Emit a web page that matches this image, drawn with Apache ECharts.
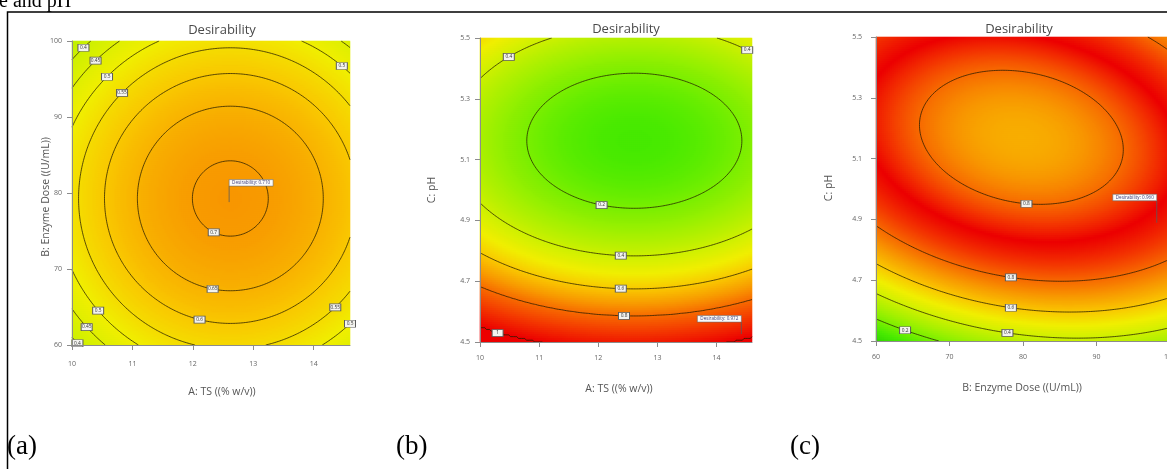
<!DOCTYPE html>
<html>
<head>
<meta charset="utf-8">
<script src="https://cdn.jsdelivr.net/npm/echarts@6/dist/echarts.min.js"></script>
<style>
  html, body { margin: 0; padding: 0; background: #fff; }
  #chart { width: 1167px; height: 469px; }
</style>
</head>
<body>
<div id="chart"></div>
<script>
// ---- factor axes -------------------------------------------------------
const tsTicks = [10, 11, 12, 13, 14];
const doseTicks = [60, 70, 80, 90, 100];
const phTicks = [4.5, 4.7, 4.9, 5.1, 5.3, 5.5];
const tsRange = [10, 14.6];
const doseRange = [60, 100];
const phRange = [4.5, 5.5];

// ---- fitted desirability surfaces ---------------------------------------
// stationary point of each second-order model
const centerA = [12.62, 79.28];   // TS, enzyme dose
const centerB = [12.61, 5.162];   // TS, pH
const centerC = [79.78, 5.17];    // enzyme dose, pH
// quadratic form around the stationary point: [xx, yy, xy]
const formA = [0.02537, 0.000407, 0];
const formB = [0.03152, 2.1117, 0];
const formC = [0.005694, 22.516, 0.13077];
// desirability as a piecewise-linear function of the quadratic form
const profileA = [[0, 0.710], [0.710, 0]];
const profileB = [[0, 0.095], [0.70, 0.80], [1.0, 1.0]];
const profileC = [[0, 0.66], [2.57, 1.0], [14.12, 0.0]];

// ---- contour levels and their label anchors [x, y, level] ---------------
const levelsA = [0.40, 0.45, 0.50, 0.55, 0.60, 0.65, 0.70];
const levelsB = [0.2, 0.4, 0.6, 0.8, 1.0];
const levelsC = [0.2, 0.4, 0.6, 0.8];
const labelsA = [
  [12.35, 74.95, 0.70], [12.34, 67.5, 0.65], [12.12, 63.5, 0.60],
  [10.83, 93.2, 0.55], [14.31, 65.5, 0.55],
  [10.58, 95.3, 0.50], [14.48, 96.9, 0.50], [10.44, 64.6, 0.50], [14.56, 63.7, 0.50],
  [10.41, 97.2, 0.45], [10.24, 62.4, 0.45],
  [10.18, 99.2, 0.40], [10.11, 60.3, 0.40]
];
const labelsB = [
  [10.44, 5.457, 0.4], [14.52, 5.467, 0.4], [12.06, 4.962, 0.2],
  [12.38, 4.789, 0.4], [12.38, 4.677, 0.6], [12.43, 4.585, 0.8], [10.25, 4.523, 1.0]
];
const labelsC = [
  [80.46, 4.972, 0.8], [78.4, 4.724, 0.8], [78.4, 4.622, 0.6],
  [78.0, 4.543, 0.4], [64.1, 4.546, 0.2]
];
// optimum flags
const flagA = [12.60, 78.8];
const flagB = [14.42, 4.526];
const flagC = [98.2, 4.889];

// colour ramp for desirability 0 ... 1
const desirabilityColors = ['#2fd500', '#48ea00', '#7aef00', '#a6f000', '#cdf000',
  '#f0ef00', '#f9c800', '#f89c00', '#f76a00', '#f33300', '#ec0000'];

// ---- panel set-up ----------------------------------------------------------
const panels = [
  { x: tsRange, y: doseRange, xTicks: tsTicks, yTicks: doseTicks, yFmt: v => String(v),
    center: centerA, form: formA, profile: profileA, levels: levelsA, labels: labelsA, flag: flagA,
    grid: { left: 72, top: 41, width: 278, height: 304 }, nx: 139, ny: 152,
    xMargin: 15, yMargin: 10, flagSide: 'right', stem: 16 },
  { x: tsRange, y: phRange, xTicks: tsTicks, yTicks: phTicks, yFmt: v => v.toFixed(1),
    center: centerB, form: formB, profile: profileB, levels: levelsB, labels: labelsB, flag: flagB,
    grid: { left: 480, top: 38, width: 272, height: 304 }, nx: 136, ny: 152,
    xMargin: 12, yMargin: 10, flagSide: 'left', stem: 12 },
  { x: doseRange, y: phRange, xTicks: doseTicks, yTicks: phTicks, yFmt: v => v.toFixed(1),
    center: centerC, form: formC, profile: profileC, levels: levelsC, labels: labelsC, flag: flagC,
    grid: { left: 876, top: 37, width: 294, height: 304 }, nx: 147, ny: 152,
    xMargin: 12, yMargin: 14, flagSide: 'left', stem: 22 }
];

function profileAt(profile, q) {
  if (q <= profile[0][0]) return profile[0][1];
  for (let k = 1; k < profile.length; k++) {
    const [q0, d0] = profile[k - 1], [q1, d1] = profile[k];
    if (q <= q1) return d0 + (d1 - d0) * (q - q0) / (q1 - q0);
  }
  return profile[profile.length - 1][1];
}
function desirability(p, x, y) {
  const dx = x - p.center[0], dy = y - p.center[1];
  const q = p.form[0] * dx * dx + p.form[1] * dy * dy + p.form[2] * dx * dy;
  return Math.min(1, Math.max(0, profileAt(p.profile, q)));
}

// surface sampled on cell centres for the colour map
function heatCells(p) {
  const out = [];
  const hx = (p.x[1] - p.x[0]) / p.nx, hy = (p.y[1] - p.y[0]) / p.ny;
  for (let j = 0; j < p.ny; j++) {
    const y = p.y[0] + (j + 0.5) * hy;
    for (let i = 0; i < p.nx; i++) {
      out.push([i, j, desirability(p, p.x[0] + (i + 0.5) * hx, y)]);
    }
  }
  return out;
}

// marching squares, chained into polylines
function nodeValues(p, n) {
  const vals = [];
  for (let j = 0; j <= n; j++) {
    const y = p.y[0] + (p.y[1] - p.y[0]) * j / n, row = [];
    for (let i = 0; i <= n; i++) row.push(desirability(p, p.x[0] + (p.x[1] - p.x[0]) * i / n, y));
    vals.push(row);
  }
  return vals;
}
function tracePolylines(p, vals, n, level) {
  const x0 = p.x[0], y0 = p.y[0];
  const hx = (p.x[1] - p.x[0]) / n, hy = (p.y[1] - p.y[0]) / n;
  const pts = {}, adj = {};
  const cross = (a, b) => (a < level) !== (b < level);
  const hEdge = (i, j) => {
    const k = 'h' + i + '_' + j;
    if (!pts[k]) { const a = vals[j][i], b = vals[j][i + 1]; pts[k] = [x0 + (i + (level - a) / (b - a)) * hx, y0 + j * hy]; }
    return k;
  };
  const vEdge = (i, j) => {
    const k = 'v' + i + '_' + j;
    if (!pts[k]) { const a = vals[j][i], b = vals[j + 1][i]; pts[k] = [x0 + i * hx, y0 + (j + (level - a) / (b - a)) * hy]; }
    return k;
  };
  const link = (a, b) => { (adj[a] = adj[a] || []).push(b); (adj[b] = adj[b] || []).push(a); };
  for (let j = 0; j < n; j++) {
    for (let i = 0; i < n; i++) {
      const v00 = vals[j][i], v10 = vals[j][i + 1], v01 = vals[j + 1][i], v11 = vals[j + 1][i + 1];
      const ks = [];
      if (cross(v00, v10)) ks.push(hEdge(i, j));
      if (cross(v10, v11)) ks.push(vEdge(i + 1, j));
      if (cross(v01, v11)) ks.push(hEdge(i, j + 1));
      if (cross(v00, v01)) ks.push(vEdge(i, j));
      if (ks.length === 2) link(ks[0], ks[1]);
      else if (ks.length === 4) { link(ks[0], ks[1]); link(ks[2], ks[3]); }
    }
  }
  const used = new Set(), lines = [];
  const walk = start => {
    const line = [pts[start]];
    used.add(start);
    let cur = start;
    for (;;) {
      const next = (adj[cur] || []).find(k => !used.has(k));
      if (!next) break;
      used.add(next); line.push(pts[next]); cur = next;
    }
    return line;
  };
  Object.keys(adj).forEach(k => { if (adj[k].length === 1 && !used.has(k)) lines.push(walk(k)); });
  Object.keys(adj).forEach(k => { if (!used.has(k)) { const l = walk(k); l.push(l[0]); lines.push(l); } });
  return lines;
}
function snapToContour(p, lines, x, y) {
  const sx = 1 / (p.x[1] - p.x[0]), sy = 1 / (p.y[1] - p.y[0]);
  let best = [x, y], bd = Infinity;
  lines.forEach(l => l.forEach(pt => {
    const d = ((pt[0] - x) * sx) ** 2 + ((pt[1] - y) * sy) ** 2;
    if (d < bd) { bd = d; best = pt; }
  }));
  return best;
}

const N = 170;
const FONT = '"Open Sans", "Noto Sans", sans-serif';
const grids = [], xAxes = [], yAxes = [], heatSeries = [], overlaySeries = [];

panels.forEach((p, k) => {
  // visible value grid (ticks, contours, labels) and hidden category grid (colour cells)
  grids[k] = Object.assign({ containLabel: false, outerBoundsMode: 'none' }, p.grid);
  grids[k + 3] = Object.assign({ containLabel: false, outerBoundsMode: 'none' }, p.grid);

  xAxes[k] = {
    type: 'value', gridIndex: k, min: p.x[0], max: p.x[1], z: 10,
    axisLine: { show: true, onZero: false, lineStyle: { color: '#8c8c8c', width: 1 } },
    axisTick: { show: true, length: 5, customValues: p.xTicks, lineStyle: { color: '#8c8c8c' } },
    axisLabel: { customValues: p.xTicks, fontSize: 7, color: '#666', margin: p.xMargin, fontFamily: FONT },
    splitLine: { show: false }
  };
  yAxes[k] = {
    type: 'value', gridIndex: k, min: p.y[0], max: p.y[1], z: 10,
    axisLine: { show: true, onZero: false, lineStyle: { color: '#8c8c8c', width: 1 } },
    axisTick: { show: true, length: 5, customValues: p.yTicks, lineStyle: { color: '#8c8c8c' } },
    axisLabel: { customValues: p.yTicks, fontSize: 7, color: '#666', margin: p.yMargin, fontFamily: FONT,
      formatter: p.yFmt },
    splitLine: { show: false }
  };
  xAxes[k + 3] = { type: 'category', gridIndex: k + 3, show: false,
    data: Array.from({ length: p.nx }, (_, i) => i) };
  yAxes[k + 3] = { type: 'category', gridIndex: k + 3, show: false,
    data: Array.from({ length: p.ny }, (_, i) => i) };

  heatSeries.push({
    type: 'heatmap', xAxisIndex: k + 3, yAxisIndex: k + 3, data: heatCells(p),
    progressive: 0, silent: true, emphasis: { disabled: true }, itemStyle: { borderWidth: 0 }, z: 1
  });

  const vals = nodeValues(p, N);
  const byLevel = {};
  const polylines = [];
  p.levels.forEach(lv => {
    byLevel[lv] = tracePolylines(p, vals, N, lv);
    byLevel[lv].forEach(c => { if (c.length > 1) polylines.push({ coords: c }); });
  });
  overlaySeries.push({
    type: 'lines', coordinateSystem: 'cartesian2d', xAxisIndex: k, yAxisIndex: k,
    polyline: true, data: polylines, silent: true, z: 3,
    lineStyle: { color: '#231b00', width: 1, opacity: 0.75 }
  });

  overlaySeries.push({
    type: 'scatter', xAxisIndex: k, yAxisIndex: k, silent: true, z: 4,
    symbol: 'rect', symbolSize: [11, 7],
    itemStyle: { color: '#f3f3ef', borderColor: '#5a5a5a', borderWidth: 0.8, opacity: 1 },
    label: { show: true, position: 'inside', fontSize: 4.8, color: '#333', fontFamily: FONT,
      formatter: d => String(d.value[2]) },
    data: p.labels.map(([x, y, lv]) => {
      const s = snapToContour(p, byLevel[lv] || [], x, y);
      return [s[0], s[1], lv];
    })
  });

  const side = p.flagSide, stem = p.stem;
  overlaySeries.push({
    type: 'custom', xAxisIndex: k, yAxisIndex: k, silent: true, z: 5,
    data: [[p.flag[0], p.flag[1], desirability(p, p.flag[0], p.flag[1])]],
    renderItem: (params, api) => {
      const pt = api.coord([api.value(0), api.value(1)]);
      const w = 44, h = 6.5;
      const bx = side === 'right' ? pt[0] : pt[0] - w;
      const by = pt[1] - stem - h;
      return {
        type: 'group',
        children: [
          { type: 'line', shape: { x1: pt[0], y1: pt[1], x2: pt[0], y2: pt[1] - stem },
            style: { stroke: '#5a5a5a', lineWidth: 0.8 } },
          { type: 'rect', shape: { x: bx, y: by, width: w, height: h },
            style: { fill: '#fbfbfb', stroke: '#6a6a6a', lineWidth: 0.6 } },
          { type: 'text', style: { x: bx + w / 2, y: by + h / 2, align: 'center', verticalAlign: 'middle',
              text: 'Desirability: ' + api.value(2).toFixed(3), fontSize: 4.6, fontFamily: FONT, fill: '#3c3c78' } }
        ]
      };
    }
  });
});

const textStyle = (extra) => Object.assign({ fontFamily: FONT, fill: '#4a4a4a' }, extra);
const SERIF = '"Liberation Serif", "DejaVu Serif", serif';
const nameStyle = (text) => textStyle({ text: text, fontSize: 10.5, align: 'center', verticalAlign: 'middle', fill: '#555' });
const graphic = [
  { type: 'rect', shape: { x: 7.5, y: 12, width: 1200, height: 500 },
    style: { fill: 'none', stroke: '#000', lineWidth: 1.5 }, z: 100 },
  { type: 'text', x: -1, y: 12, style: { text: 'e and pH', font: '20px ' + SERIF, fill: '#000', verticalAlign: 'bottom' } },
  { type: 'text', x: 7, y: 447, style: { text: '(a)', font: '27px ' + SERIF, fill: '#000', verticalAlign: 'middle' } },
  { type: 'text', x: 396, y: 447, style: { text: '(b)', font: '27px ' + SERIF, fill: '#000', verticalAlign: 'middle' } },
  { type: 'text', x: 790, y: 447, style: { text: '(c)', font: '27px ' + SERIF, fill: '#000', verticalAlign: 'middle' } },
  // panel titles
  { type: 'text', x: 222, y: 30, style: textStyle({ text: 'Desirability', fontSize: 13, align: 'center', verticalAlign: 'middle' }) },
  { type: 'text', x: 626, y: 29, style: textStyle({ text: 'Desirability', fontSize: 13, align: 'center', verticalAlign: 'middle' }) },
  { type: 'text', x: 1019, y: 29, style: textStyle({ text: 'Desirability', fontSize: 13, align: 'center', verticalAlign: 'middle' }) },
  // axis names
  { type: 'text', x: 222, y: 392, style: nameStyle('A: TS ((% w/v))') },
  { type: 'text', x: 619, y: 389, style: nameStyle('A: TS ((% w/v))') },
  { type: 'text', x: 1022, y: 388, style: nameStyle('B: Enzyme Dose ((U/mL))') },
  { type: 'text', x: 46, y: 197, rotation: Math.PI / 2, style: nameStyle('B: Enzyme Dose ((U/mL))') },
  { type: 'text', x: 432, y: 190, rotation: Math.PI / 2, style: nameStyle('C: pH') },
  { type: 'text', x: 829, y: 188, rotation: Math.PI / 2, style: nameStyle('C: pH') }
];

const chart = echarts.init(document.getElementById('chart'), null, { renderer: 'canvas' });
chart.setOption({
  animation: false,
  backgroundColor: '#fff',
  visualMap: { show: false, type: 'continuous', min: 0, max: 1, dimension: 2,
    seriesIndex: [0, 1, 2], inRange: { color: desirabilityColors } },
  grid: grids,
  xAxis: xAxes,
  yAxis: yAxes,
  series: heatSeries.concat(overlaySeries),
  graphic: graphic
});
</script>
</body>
</html>
